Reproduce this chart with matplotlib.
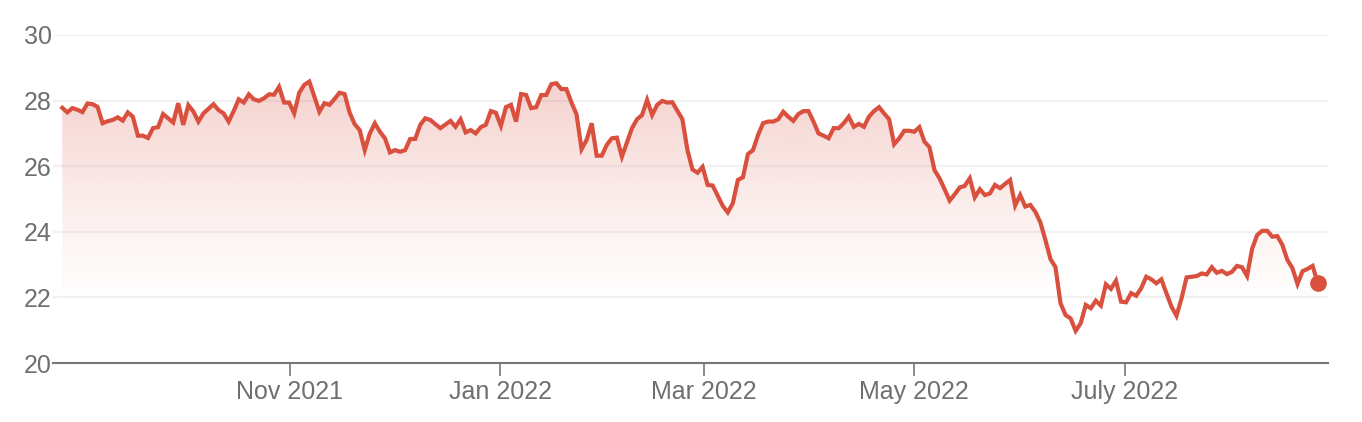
import numpy as np
import pandas as pd
import matplotlib
matplotlib.use("Agg")
import matplotlib.pyplot as plt
import matplotlib.dates as mdates
from matplotlib.ticker import FuncFormatter

plt.rcParams['font.family'] = ['Liberation Sans', 'DejaVu Sans']

# daily closes, one per session
first_day = "2021-08-27"
last_day = "2022-08-26"
closes = [
    27.78, 27.64, 27.77, 27.72, 27.65, 27.91, 27.89, 27.81, 27.31, 27.37,
    27.41, 27.49, 27.39, 27.64, 27.51, 26.93, 26.93, 26.86, 27.16, 27.19,
    27.59, 27.46, 27.33, 27.92, 27.26, 27.86, 27.67, 27.36, 27.61, 27.75,
    27.89, 27.71,
    27.61, 27.36, 27.68, 28.04, 27.94, 28.19, 28.04, 27.99, 28.07, 28.19,
    28.18, 28.42, 27.94, 27.94, 27.61, 28.24, 28.48, 28.58,
    28.12, 27.66, 27.92, 27.87, 28.05, 28.24, 28.20, 27.63, 27.28, 27.10,
    26.49, 27.00, 27.31, 27.05, 26.85, 26.42, 26.49, 26.44, 26.49, 26.83,
    26.83, 27.26, 27.46, 27.41, 27.28, 27.16, 27.27, 27.38, 27.20, 27.43,
    27.03, 27.10, 27.00, 27.19, 27.26, 27.68, 27.63, 27.23, 27.80, 27.87,
    27.36, 28.20, 28.17, 27.77, 27.80, 28.17, 28.17, 28.50, 28.53, 28.35,
    28.35, 27.94, 27.58, 26.52, 26.80, 27.31, 26.32, 26.32, 26.65, 26.85,
    26.87, 26.29, 26.72, 27.16, 27.43, 27.56, 28.02, 27.56, 27.87, 27.99,
    27.94, 27.95, 27.69, 27.43, 26.49, 25.90, 25.80, 25.98, 25.43, 25.41,
    25.10, 24.79, 24.59, 24.87, 25.58, 25.66, 26.37, 26.49, 26.95, 27.31,
    27.36, 27.36, 27.43, 27.66, 27.51, 27.38, 27.59, 27.68, 27.68, 27.36,
    27.00, 26.93, 26.85, 27.16, 27.16, 27.31, 27.51, 27.20, 27.29, 27.20,
    27.51, 27.68, 27.80, 27.61, 27.43, 26.67, 26.85, 27.08, 27.08, 27.05,
    27.19, 26.75, 26.58, 25.88, 25.63, 25.30, 24.95, 25.14, 25.35, 25.40,
    25.63, 25.05, 25.30, 25.12, 25.17, 25.43, 25.33, 25.46, 25.58, 24.80,
    25.12, 24.77, 24.82, 24.61, 24.29, 23.75, 23.17, 22.92, 21.82, 21.46,
    21.36, 20.98, 21.21, 21.77, 21.67, 21.90, 21.75, 22.40, 22.26, 22.51,
    21.87, 21.85, 22.13, 22.05, 22.28, 22.63, 22.55, 22.43, 22.55, 22.13,
    21.72, 21.44, 21.97, 22.61, 22.63, 22.65, 22.73, 22.70, 22.92, 22.75,
    22.81, 22.71, 22.78, 22.96, 22.92, 22.65, 23.48, 23.90, 24.03, 24.03,
    23.85, 23.87, 23.60, 23.14, 22.89, 22.41, 22.80, 22.87, 22.96, 22.45,
]
y_ticks = [20, 22, 24, 26, 28, 30]
tick_months = [11, 1, 3, 5, 7]
month_names = {1: "Jan", 3: "Mar", 5: "May", 7: "July", 11: "Nov"}

dates = pd.date_range(first_day, last_day, periods=len(closes))
xs = mdates.date2num(dates.to_pydatetime())
ys = np.array(closes)

red = "#d9503f"
grey = "#6f6f6f"

fig = plt.figure(figsize=(13.62, 4.22), dpi=100)
ax = fig.add_axes([0.0389, 0.1398, 0.9361, 0.7773])

# gradient area under the line
fill = ax.fill_between(xs, ys, 20, facecolor="none", edgecolor="none")
grad = np.linspace(0, 1, 256).reshape(-1, 1)
rgba = np.zeros((256, 1, 4))
rgba[..., :3] = matplotlib.colors.to_rgb(red)
rgba[..., 3] = np.clip((grad - 0.2) / 0.8, 0, 1) ** 1.2 * 0.26
img = ax.imshow(rgba, aspect="auto", origin="lower",
                extent=[xs[0], xs[-1], 20, ys.max()], zorder=1)
img.set_clip_path(fill.get_paths()[0], transform=ax.transData)

ax.plot(xs, ys, color=red, lw=3.0, solid_joinstyle="miter", zorder=3)
ax.plot(xs[-1], ys[-1], "o", color=red, ms=11, zorder=4, clip_on=False)

ax.set_ylim(20, 30)
span = xs[-1] - xs[0]
ax.set_xlim(xs[0] - 0.0074 * span, xs[-1] + 0.0082 * span)
ax.set_yticks(y_ticks)
ax.yaxis.grid(True, color="#f1f1f1", lw=1.6)
ax.set_axisbelow(True)

ax.xaxis.set_major_locator(mdates.MonthLocator(bymonth=tick_months))
ax.xaxis.set_major_formatter(FuncFormatter(
    lambda v, p: f"{month_names[mdates.num2date(v).month]} {mdates.num2date(v).year}"))

for s in ["top", "right", "left"]:
    ax.spines[s].set_visible(False)
ax.spines["bottom"].set_color("#777777")
ax.spines["bottom"].set_linewidth(1.5)

ax.tick_params(axis="y", length=0, pad=1, labelsize=18, labelcolor=grey)
ax.tick_params(axis="x", length=9.5, width=1.2, color="#777777", pad=3,
               labelsize=18, labelcolor=grey)

fig.savefig("out.png", dpi=100, facecolor="white")
